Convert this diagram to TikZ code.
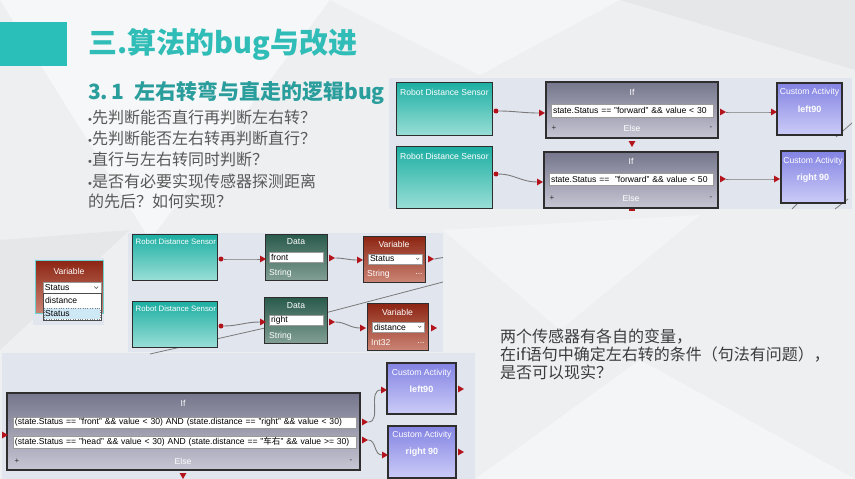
\documentclass[tikz,border=0pt]{standalone}
\usepackage{fontspec}
\setmainfont{Liberation Sans}
\newfontfamily\cjk{Noto Sans CJK SC}
\usetikzlibrary{shapes.geometric}

\definecolor{slidebg}{HTML}{EDEFF1}
\definecolor{panelbg}{HTML}{E1E5EE}
\definecolor{tealbar}{HTML}{2BBFB9}
\definecolor{titleteal}{HTML}{30BDB7}
\definecolor{subteal}{HTML}{2A9E9C}
\definecolor{bullettext}{HTML}{595959}
\definecolor{bodytext}{HTML}{3C3C3C}
\definecolor{boxline}{HTML}{2E2E2E}
\definecolor{sensortop}{HTML}{1CAEA2}
\definecolor{sensormid}{HTML}{26B3A8}
\definecolor{sensorbot}{HTML}{98DED6}
\definecolor{iftop}{HTML}{76768C}
\definecolor{ifbot}{HTML}{C6C6D4}
\definecolor{customtop}{HTML}{8383E3}
\definecolor{custombot}{HTML}{CCCCF8}
\definecolor{datatop}{HTML}{285A4B}
\definecolor{databot}{HTML}{829F94}
\definecolor{vartop}{HTML}{8C2412}
\definecolor{varbot}{HTML}{CB8474}
\definecolor{portred}{HTML}{B3141B}
\definecolor{wire}{HTML}{7A7A7A}
\definecolor{fieldline}{HTML}{9A9A9A}
\definecolor{pickblue}{HTML}{CFE8F5}

\begin{document}
\begin{tikzpicture}[x = 1pt, y = -1pt]
\tikzstyle{SensorStyle}=[draw = boxline, line width = 1pt, top color = sensortop,
middle color = sensormid, bottom color = sensorbot, inner sep = 0pt]
\tikzstyle{IfStyle}=[draw = boxline, line width = 1.3pt, top color = iftop,
bottom color = ifbot, inner sep = 0pt]
\tikzstyle{CustomStyle}=[draw = boxline, line width = 1.2pt, top color = customtop,
bottom color = custombot, inner sep = 0pt]
\tikzstyle{DataStyle}=[draw = boxline, line width = 1pt, top color = datatop,
bottom color = databot, inner sep = 0pt]
\tikzstyle{VarStyle}=[draw = boxline, line width = 1pt, top color = vartop,
bottom color = varbot, inner sep = 0pt]
\tikzstyle{LabelStyle}=[inner sep = 0pt, text = white, font = \fontsize{8.6}{10}\selectfont]
\tikzstyle{SmallLabelStyle}=[LabelStyle, font = \fontsize{7.8}{9}\selectfont]
\tikzstyle{BoldStyle}=[inner sep = 0pt, text = white, font = \fontsize{9}{10}\selectfont\bfseries]
\tikzstyle{SignStyle}=[inner sep = 0pt, text = black!80, font = \fontsize{8}{10}\selectfont]
\tikzstyle{FieldStyle}=[fill = white, draw = fieldline, line width = 0.5pt, inner xsep = 2pt,
inner ysep = 0pt, align = left, text = black, font = \fontsize{8.6}{10}\selectfont]
\tikzstyle{PortStyle}=[regular polygon, regular polygon sides = 3, shape border rotate = -90,
fill = portred, inner sep = 0pt, minimum size = 8pt]
\tikzstyle{DownPortStyle}=[PortStyle, shape border rotate = 180]
\tikzstyle{DotStyle}=[circle, fill = portred, inner sep = 0pt, minimum size = 5pt]
\tikzstyle{EdgeStyle}=[draw = wire, line width = 0.9pt]
\tikzstyle{BulletStyle}=[anchor = west, inner sep = 0pt, text = bullettext,
font = \cjk\fontsize{16}{18}\selectfont]
\tikzstyle{NoteStyle}=[anchor = west, inner sep = 0pt, text = bodytext,
font = \cjk\fontsize{16}{18}\selectfont]
\newcommand{\dotmark}{{\normalfont\fontsize{11}{12}\selectfont •}}
\useasboundingbox (0,0) rectangle (855,479);
\fill[slidebg] (0,0) rectangle (855,479);
\fill[white, opacity = 0.5] (0,0) -- (330,0) -- (150,240) -- cycle;
\fill[white, opacity = 0.4] (330,0) -- (620,0) -- (480,75) -- cycle;
\fill[white, opacity = 0.35] (443,230) -- (700,215) -- (560,330) -- cycle;
\fill[white, opacity = 0.4] (475,479) -- (640,360) -- (855,479) -- cycle;
\fill[black, opacity = 0.03] (620,0) -- (855,0) -- (855,70) -- cycle;
\fill[black, opacity = 0.03] (0,240) -- (130,230) -- (0,350) -- cycle;
\fill[tealbar] (0,22) rectangle (67,66);
\node[anchor = west, inner sep = 0pt, text = titleteal,
font = \cjk\fontsize{29}{32}\selectfont\bfseries] (h0) at (88,44) {三.算法的bug与改进};
\node[anchor = west, inner sep = 0pt, text = subteal,
font = \cjk\fontsize{21}{24}\selectfont\bfseries] (h1) at (88,93) {3.\,1 \ 左右转弯与直走的逻辑bug};
\node[BulletStyle] (b0) at (88,117) {\dotmark 先判断能否直行再判断左右转？};
\node[BulletStyle] (b1) at (88,138) {\dotmark 先判断能否左右转再判断直行？};
\node[BulletStyle] (b2) at (88,159) {\dotmark 直行与左右转同时判断？};
\node[BulletStyle] (b3) at (88,181) {\dotmark 是否有必要实现传感器探测距离};
\node[BulletStyle] (b4) at (88,201) {的先后？如何实现？};
\node[NoteStyle] (n0) at (500,337) {两个传感器有各自的变量，};
\node[NoteStyle] (n1) at (500,355) {在if语句中确定左右转的条件（句法有问题），};
\node[NoteStyle] (n2) at (500,372) {是否可以现实？};
\fill[panelbg] (389,78) rectangle (852,209);
\fill[panelbg] (128,233) rectangle (443,352);
\fill[panelbg] (2,353) rectangle (475,479);
\fill[panelbg] (33,258) rectangle (104,325);
\draw[wire, line width = 0.8pt] (792,209) -- (801,200);
\draw[wire, line width = 0.8pt] (835,209) -- (848,199);
\draw[wire, line width = 0.8pt] (836,137) -- (852,123);
\draw[wire, line width = 0.8pt] (150,354) -- (265,328);
\draw[wire, line width = 0.8pt] (325,313) -- (443,282);
\node[SensorStyle, minimum width = 96pt, minimum height = 53pt] (s0) at (444,108.5) {};
\node[SensorStyle, minimum width = 96pt, minimum height = 62pt] (s1) at (444,177) {};
\node[IfStyle, minimum width = 172pt, minimum height = 56pt] (i0) at (632,110) {};
\node[IfStyle, minimum width = 174pt, minimum height = 56pt] (i1) at (631,180) {};
\node[CustomStyle, minimum width = 65pt, minimum height = 52pt] (c0) at (809.5,109) {};
\node[CustomStyle, minimum width = 64pt, minimum height = 52pt] (c1) at (813,177) {};
\node[LabelStyle, anchor = west] (s0t) at (400,92) {Robot Distance Sensor};
\node[LabelStyle, anchor = west] (s1t) at (400,156) {Robot Distance Sensor};
\node[LabelStyle] (i0t) at (632,92) {If};
\node[LabelStyle] (i1t) at (631,161) {If};
\node[FieldStyle, text width = 158pt, minimum height = 13pt] (i0f) at (632,110.5) {state.Status == "forward" \&\& value < 30};
\node[FieldStyle, text width = 160pt, minimum height = 12pt] (i1f) at (631,179) {state.Status == \ "forward" \&\& value < 50};
\node[SignStyle] (i0p) at (554,128) {+};
\node[LabelStyle] (i0e) at (632,128) {Else};
\node[SignStyle] (i0m) at (711,128) {-};
\node[SignStyle] (i1p) at (552,198) {+};
\node[LabelStyle] (i1e) at (631,198) {Else};
\node[SignStyle] (i1m) at (711,198) {-};
\node[LabelStyle] (c0t) at (809.5,92) {Custom Activity};
\node[BoldStyle] (c0n) at (809.5,109) {left90};
\node[LabelStyle] (c1t) at (813,161) {Custom Activity};
\node[BoldStyle] (c1n) at (813,178) {right 90};
\node[DotStyle] (p0) at (496,111) {};
\node[PortStyle] (p1) at (541,113) {};
\node[PortStyle] (p2) at (722,112) {};
\node[PortStyle] (p3) at (773,112) {};
\node[DownPortStyle] (p4) at (632,143) {};
\node[DotStyle] (p5) at (496,174) {};
\node[PortStyle] (p6) at (539,182) {};
\node[PortStyle] (p7) at (722,179) {};
\node[PortStyle] (p8) at (776,179) {};
\fill[portred] (629,208.5) rectangle (635,211);
\draw[EdgeStyle] (p0) to[out = 0, in = 180] (p1);
\draw[EdgeStyle] (p2) to[out = 0, in = 180] (p3);
\draw[EdgeStyle] (p5) to[out = 0, in = 180] (p6);
\draw[EdgeStyle] (p7) to[out = 0, in = 180] (p8);
\node[SensorStyle, minimum width = 85pt, minimum height = 46pt] (s2) at (174.5,257) {};
\node[SensorStyle, minimum width = 85pt, minimum height = 46pt] (s3) at (174.5,324) {};
\node[DataStyle, minimum width = 62pt, minimum height = 46pt] (d0) at (296,257) {};
\node[DataStyle, minimum width = 63pt, minimum height = 46pt] (d1) at (295.5,320) {};
\node[VarStyle, minimum width = 62pt, minimum height = 46pt] (v0) at (394,259) {};
\node[VarStyle, minimum width = 61pt, minimum height = 47pt] (v1) at (397.5,326.5) {};
\node[SmallLabelStyle, anchor = west] (s2t) at (135.5,242) {Robot Distance Sensor};
\node[SmallLabelStyle, anchor = west] (s3t) at (135.5,309) {Robot Distance Sensor};
\node[LabelStyle] (d0t) at (296,242) {Data};
\node[LabelStyle] (d1t) at (296,306) {Data};
\node[FieldStyle, text width = 50pt, minimum height = 10pt] (d0f) at (296,257.5) {front};
\node[FieldStyle, text width = 50pt, minimum height = 10pt] (d1f) at (296,320.5) {right};
\node[LabelStyle, anchor = west] (d0s) at (269,273) {String};
\node[LabelStyle, anchor = west] (d1s) at (269,336) {String};
\node[LabelStyle] (v0t) at (394,244) {Variable};
\node[LabelStyle] (v1t) at (397.5,312) {Variable};
\node[FieldStyle, text width = 50pt, minimum height = 10pt] (v0f) at (395,259) {Status};
\node[FieldStyle, text width = 48pt, minimum height = 10pt] (v1f) at (398,327) {distance};
\draw[black!60, line width = 0.5pt] ([xshift = -6pt, yshift = 1pt]v0f.east) -- ++(1.5pt,-1.5pt) -- ++(1.5pt,1.5pt);
\draw[black!60, line width = 0.5pt] ([xshift = -6pt, yshift = 1pt]v1f.east) -- ++(1.5pt,-1.5pt) -- ++(1.5pt,1.5pt);
\node[LabelStyle, anchor = west] (v0s) at (367,274) {String};
\node[LabelStyle] (v0d) at (419,274) {...};
\node[LabelStyle, anchor = west] (v1s) at (371,343) {Int32};
\node[LabelStyle] (v1d) at (421,343) {...};
\node[DotStyle] (q0) at (221,259) {};
\node[PortStyle] (q1) at (262,259) {};
\node[PortStyle] (q2) at (331,258) {};
\node[PortStyle] (q3) at (359,260) {};
\node[PortStyle] (q4) at (430,259) {};
\coordinate (e0) at (443,257.5);
\node[DotStyle] (q5) at (221,326) {};
\node[PortStyle] (q6) at (262,322) {};
\node[PortStyle] (q7) at (331,322) {};
\node[PortStyle] (q8) at (362,328) {};
\node[PortStyle] (q9) at (433,328) {};
\draw[EdgeStyle] (q0) to[out = 0, in = 180] (q1);
\draw[EdgeStyle] (q2) to[out = 0, in = 180] (q3);
\draw[EdgeStyle] (q4) to[out = 0, in = 180] (e0);
\draw[EdgeStyle] (q5) to[out = 0, in = 180] (q6);
\draw[EdgeStyle] (q7) to[out = 0, in = 180] (q8);
\node[VarStyle, draw = tealbar!70, minimum width = 68pt, minimum height = 53pt] (v2) at (69,286.5) {};
\node[LabelStyle] (v2t) at (69,271) {Variable};
\node[FieldStyle, text width = 54pt, minimum height = 11pt] (v2f) at (72,287.5) {Status};
\draw[black!70, line width = 0.6pt] ([xshift = -7pt, yshift = 1pt]v2f.east) -- ++(2pt,-2pt) -- ++(2pt,2pt);
\node[fill = white, draw = black!70, line width = 0.8pt, minimum width = 58pt,
minimum height = 27pt, inner sep = 0pt] (v2l) at (72,306.5) {};
\node[fill = pickblue, draw = black!50, dotted, minimum width = 56pt,
minimum height = 11pt, inner sep = 0pt] (v2h) at (72,313.5) {};
\node[SignStyle, anchor = west, text = black, font = \fontsize{8.6}{10}\selectfont] (v2a) at (45,300.5) {distance};
\node[SignStyle, anchor = west, text = black, font = \fontsize{8.6}{10}\selectfont] (v2b) at (45,313.5) {Status};
\node[IfStyle, minimum width = 353pt, minimum height = 77pt] (i2) at (183.5,431.5) {};
\node[CustomStyle, minimum width = 69pt, minimum height = 51pt] (c2) at (421.5,388.5) {};
\node[CustomStyle, minimum width = 68pt, minimum height = 52pt] (c3) at (422,452) {};
\node[LabelStyle] (i2t) at (183,403) {If};
\node[FieldStyle, text width = 339pt, minimum height = 11pt] (i2f) at (184.5,422.5) {(state.Status == "front" \&\& value < 30) AND (state.distance == "right" \&\& value < 30)};
\node[FieldStyle, text width = 339pt, minimum height = 12pt] (i2g) at (184.5,442) {(state.Status == "head" \&\& value < 30) AND (state.distance == "{\cjk 车右}" \&\& value >= 30)};
\node[SignStyle] (i2p) at (17,461) {+};
\node[LabelStyle] (i2e) at (183,461) {Else};
\node[SignStyle] (i2m) at (351,461) {-};
\node[LabelStyle] (c2t) at (421.5,373) {Custom Activity};
\node[BoldStyle] (c2n) at (421.5,389) {left90};
\node[LabelStyle] (c3t) at (422,435) {Custom Activity};
\node[BoldStyle] (c3n) at (422,452) {right 90};
\node[PortStyle] (r0) at (4,435) {};
\node[PortStyle] (r1) at (364,422) {};
\node[PortStyle] (r2) at (364,440) {};
\node[PortStyle] (r3) at (383,390) {};
\node[PortStyle] (r4) at (384,455) {};
\node[PortStyle] (r5) at (460,389) {};
\node[PortStyle] (r6) at (460,452) {};
\node[DownPortStyle] (r7) at (183,475) {};
\draw[EdgeStyle] (r1) to[out = 0, in = 180] (r3);
\draw[EdgeStyle] (r2) to[out = 0, in = 180] (r4);
\end{tikzpicture}
\end{document}
